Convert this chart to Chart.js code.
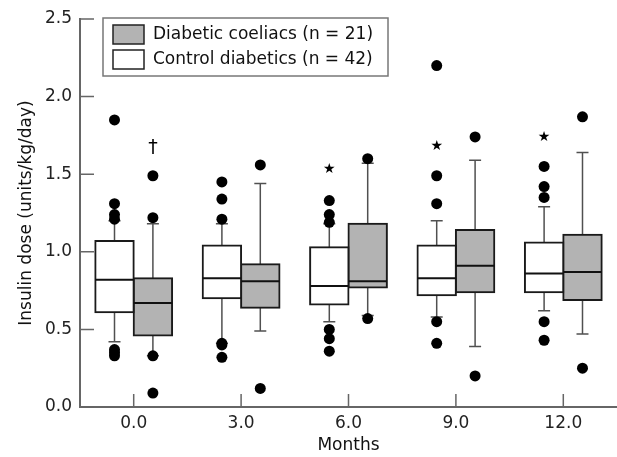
<!DOCTYPE html>
<html lang="en">
<head>
<meta charset="UTF-8">
<title>Insulin dose by month</title>
<script src="https://cdn.jsdelivr.net/npm/chart.js"></script>
<style>
  body { margin: 0; background: #fff; }
  #wrap { width: 617px; height: 457px; }
</style>
</head>
<body>
<div id="wrap"><canvas id="boxChart"></canvas></div>
<script>
const months = ['0.0', '3.0', '6.0', '9.0', '12.0'];
const yTicks = [0, 0.5, 1.0, 1.5, 2.0, 2.5];

// control diabetics (white boxes)
const controlLow = [0.42, 0.41, 0.55, 0.58, 0.62];
const controlQ1 = [0.61, 0.70, 0.66, 0.72, 0.74];
const controlMedian = [0.82, 0.83, 0.78, 0.83, 0.86];
const controlQ3 = [1.07, 1.04, 1.03, 1.04, 1.06];
const controlHigh = [1.20, 1.18, 1.18, 1.20, 1.29];
const controlOutliers = [
  [1.85, 1.31, 1.24, 1.21, 0.37, 0.35, 0.33],
  [1.45, 1.34, 1.21, 0.41, 0.40, 0.32],
  [1.33, 1.24, 1.19, 0.50, 0.44, 0.36],
  [2.20, 1.49, 1.31, 0.55, 0.41],
  [1.55, 1.42, 1.35, 0.55, 0.43]
];
const controlMarks = ['', '', '★', '★', '★'];
const controlMarkAt = [null, null, 1.53, 1.68, 1.74];

// diabetic coeliacs (grey boxes)
const coeliacLow = [0.33, 0.49, 0.59, 0.39, 0.47];
const coeliacQ1 = [0.46, 0.64, 0.77, 0.74, 0.69];
const coeliacMedian = [0.67, 0.81, 0.81, 0.91, 0.87];
const coeliacQ3 = [0.83, 0.92, 1.18, 1.14, 1.11];
const coeliacHigh = [1.18, 1.44, 1.57, 1.59, 1.64];
const coeliacOutliers = [
  [1.49, 1.22, 0.33, 0.09],
  [1.56, 0.12],
  [1.60, 0.57],
  [1.74, 0.20],
  [1.87, 0.25]
];
const coeliacMarks = ['†', '', '', '', ''];
const coeliacMarkAt = [1.67, null, null, null, null];

const FONT = 'DejaVu Sans';

const groups = [
  { low: controlLow, med: controlMedian, high: controlHigh, out: controlOutliers, marks: controlMarks, markAt: controlMarkAt },
  { low: coeliacLow, med: coeliacMedian, high: coeliacHigh, out: coeliacOutliers, marks: coeliacMarks, markAt: coeliacMarkAt }
];

// whiskers, medians, outliers, inner ticks and the boxed legend
const boxPlot = {
  id: 'boxPlot',
  beforeDatasetsDraw(chart) {
    const { ctx } = chart;
    const y = chart.scales.y;
    groups.forEach((g, di) => {
      chart.getDatasetMeta(di).data.forEach((bar, i) => {
        const x = bar.x;
        const yl = y.getPixelForValue(g.low[i]);
        const yh = y.getPixelForValue(g.high[i]);
        ctx.save();
        ctx.strokeStyle = '#505050';
        ctx.lineWidth = 1.5;
        ctx.beginPath();
        ctx.moveTo(x, yl); ctx.lineTo(x, yh);
        ctx.moveTo(x - 6, yl); ctx.lineTo(x + 6, yl);
        ctx.moveTo(x - 6, yh); ctx.lineTo(x + 6, yh);
        ctx.stroke();
        ctx.restore();
      });
    });
  },
  afterDatasetsDraw(chart) {
    const { ctx } = chart;
    const y = chart.scales.y;
    groups.forEach((g, di) => {
      chart.getDatasetMeta(di).data.forEach((bar, i) => {
        const x = bar.x;
        const half = bar.width / 2;
        const ym = y.getPixelForValue(g.med[i]);
        ctx.save();
        ctx.strokeStyle = '#111';
        ctx.lineWidth = 2;
        ctx.beginPath();
        ctx.moveTo(x - half, ym); ctx.lineTo(x + half, ym);
        ctx.stroke();
        ctx.fillStyle = '#000';
        g.out[i].forEach(v => {
          ctx.beginPath();
          ctx.arc(x, y.getPixelForValue(v), 5.5, 0, Math.PI * 2);
          ctx.fill();
        });
        if (g.marks[i]) {
          ctx.font = (g.marks[i] === '★' ? '14px ' : '19px ') + FONT;
          ctx.textAlign = 'center';
          ctx.textBaseline = 'middle';
          ctx.fillText(g.marks[i], x, y.getPixelForValue(g.markAt[i]));
        }
        ctx.restore();
      });
    });
  },
  afterDraw(chart) {
    const { ctx, chartArea } = chart;
    const { x, y } = chart.scales;
    ctx.save();
    ctx.strokeStyle = '#666';
    ctx.lineWidth = 1.5;
    ctx.beginPath();
    y.ticks.forEach((t, i) => {
      const py = y.getPixelForTick(i);
      ctx.moveTo(chartArea.left, py); ctx.lineTo(chartArea.left + 14, py);
    });
    x.ticks.forEach((t, i) => {
      const px = x.getPixelForTick(i);
      ctx.moveTo(px, chartArea.bottom); ctx.lineTo(px, chartArea.bottom - 13);
    });
    ctx.stroke();

    // legend box, coeliacs listed first
    const lx = 103, ly = 18, lw = 285, lh = 58;
    ctx.fillStyle = '#fff';
    ctx.fillRect(lx, ly, lw, lh);
    ctx.strokeStyle = '#777';
    ctx.lineWidth = 1.5;
    ctx.strokeRect(lx, ly, lw, lh);
    const items = [chart.data.datasets[1], chart.data.datasets[0]];
    ctx.font = '17px ' + FONT;
    ctx.textBaseline = 'middle';
    ctx.textAlign = 'left';
    items.forEach((ds, k) => {
      const cy = ly + 16 + k * 25;
      ctx.fillStyle = ds.backgroundColor;
      ctx.fillRect(lx + 10, cy - 9, 31, 19);
      ctx.strokeStyle = '#222';
      ctx.lineWidth = 1.5;
      ctx.strokeRect(lx + 10, cy - 9, 31, 19);
      ctx.fillStyle = '#111';
      ctx.fillText(ds.label, lx + 50, cy + 1);
    });
    ctx.restore();
  }
};

new Chart(document.getElementById('boxChart'), {
  type: 'bar',
  data: {
    labels: months,
    datasets: [
      {
        label: 'Control diabetics (n = 42)',
        data: controlQ1.map((q, i) => [q, controlQ3[i]]),
        backgroundColor: '#ffffff',
        borderColor: '#1a1a1a',
        borderWidth: 2,
        borderSkipped: false,
        inflateAmount: 1
      },
      {
        label: 'Diabetic coeliacs (n = 21)',
        data: coeliacQ1.map((q, i) => [q, coeliacQ3[i]]),
        backgroundColor: '#b3b3b3',
        borderColor: '#1a1a1a',
        borderWidth: 2,
        borderSkipped: false,
        inflateAmount: 1
      }
    ]
  },
  plugins: [boxPlot],
  options: {
    responsive: true,
    maintainAspectRatio: false,
    animation: false,
    categoryPercentage: 0.715,
    barPercentage: 1.0,
    layout: { padding: { top: 19, right: 0, left: 0, bottom: 0 } },
    plugins: {
      legend: { display: false },
      tooltip: { enabled: false }
    },
    scales: {
      x: {
        grid: { display: false, drawTicks: false },
        border: { color: '#666', width: 2 },
        ticks: { color: '#222', padding: 6, font: { family: FONT, size: 17 } },
        title: { display: true, text: 'Months', color: '#111', padding: { top: 0, bottom: 1 }, font: { family: FONT, size: 17 } },
        afterFit(scale) { scale.height = 50; }
      },
      y: {
        min: 0,
        max: 2.5,
        afterBuildTicks(scale) { scale.ticks = yTicks.map(v => ({ value: v })); },
        grid: { display: false, drawTicks: false },
        border: { color: '#666', width: 2 },
        ticks: { color: '#222', padding: 8, font: { family: FONT, size: 17 }, callback: v => Number(v).toFixed(1) },
        title: { display: true, text: 'Insulin dose (units/kg/day)', color: '#111', padding: { top: 16, bottom: 0 }, font: { family: FONT, size: 17 } },
        afterFit(scale) { scale.width = 80; }
      }
    }
  }
});
</script>
</body>
</html>
